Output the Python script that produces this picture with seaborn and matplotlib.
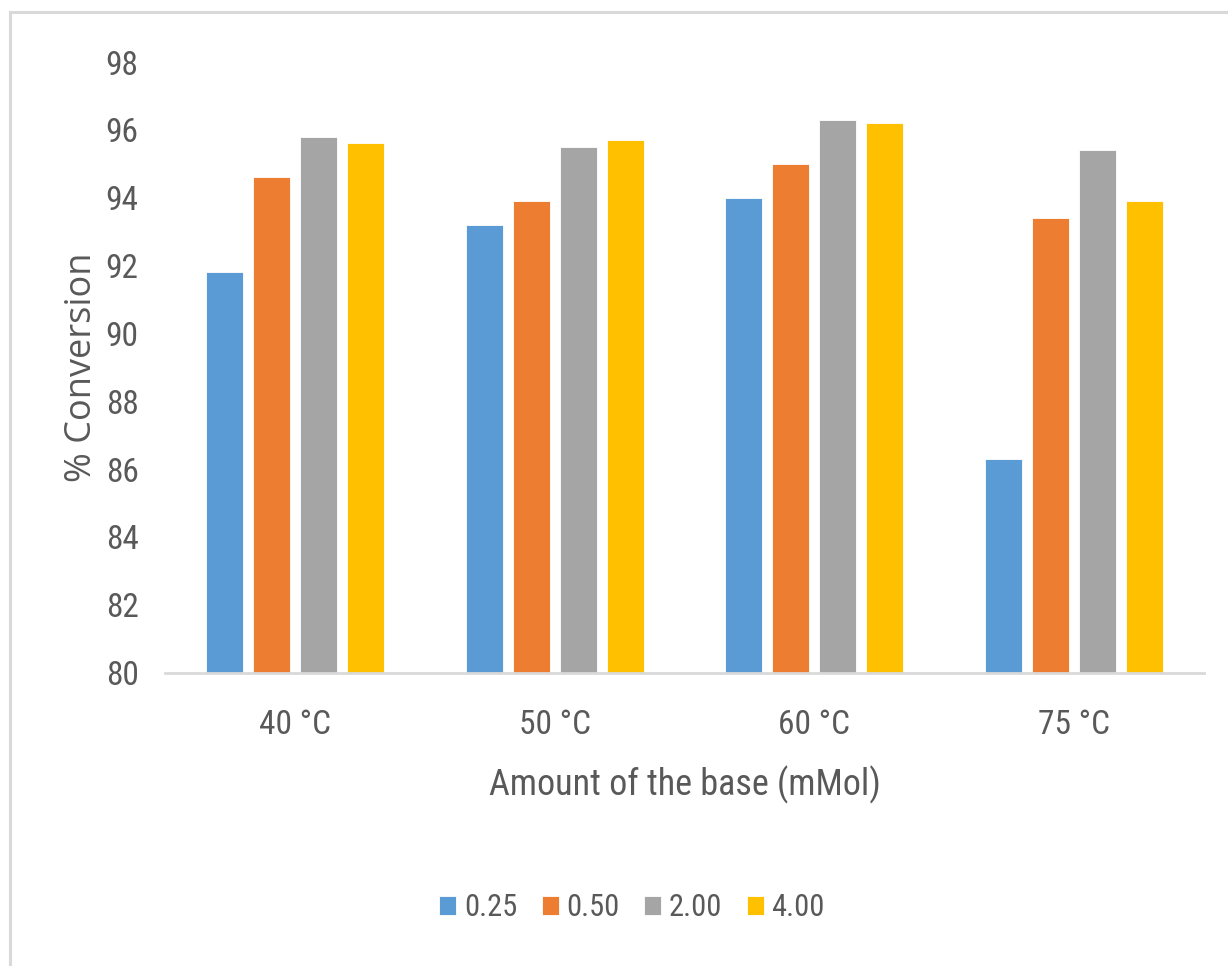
import matplotlib
matplotlib.use("Agg")
import matplotlib.pyplot as plt
from matplotlib.patches import Rectangle
import seaborn as sns
import pandas as pd

# Reaction temperature groups and base loadings (mMol)
temperatures = ["40 °C", "50 °C", "60 °C", "75 °C"]
base_amounts = ["0.25", "0.50", "2.00", "4.00"]

# % conversion per base loading, one value per temperature
conv_025 = [91.8, 93.2, 94.0, 86.3]
conv_050 = [94.6, 93.9, 95.0, 93.4]
conv_200 = [95.8, 95.5, 96.3, 95.4]
conv_400 = [95.6, 95.7, 96.2, 93.9]

bar_colors = ["#5B9BD5", "#ED7D31", "#A5A5A5", "#FFC000"]

series = [conv_025, conv_050, conv_200, conv_400]
rows = []
for amount, values in zip(base_amounts, series):
    for temp, v in zip(temperatures, values):
        rows.append({"temperature": temp, "base": amount, "conversion": v})
df = pd.DataFrame(rows)

sns.set_theme(style="white")
narrow = ["Roboto Condensed", "Open Sans Condensed", "PT Sans Narrow",
          "Archivo Narrow", "Fira Sans Condensed", "Carlito", "DejaVu Sans"]
plt.rcParams["font.family"] = narrow
text_color = "#595959"

W, H = 1228, 966
fig = plt.figure(figsize=(W / 100, H / 100), dpi=100)
fig.patch.set_facecolor("white")

# Chart-area frame (light gray)
fig.patches.append(Rectangle((10 / W, -0.05), 1.2, 1 - 12 / H + 0.05,
                             transform=fig.transFigure, fill=False,
                             edgecolor="#D9D9D9", linewidth=2.2, zorder=0))

left, right = 165 / W, 1204 / W
bottom, top = 1 - 672.5 / H, 1 - 62 / H
ax = fig.add_axes([left, bottom, right - left, top - bottom])

sns.barplot(data=df, x="temperature", y="conversion", hue="base",
            order=temperatures, hue_order=base_amounts,
            palette=bar_colors, width=0.724, gap=0.21,
            edgecolor="white", linewidth=0.6, saturation=1,
            errorbar=None, ax=ax)

ax.set_ylim(80, 98)
ax.set_yticks(range(80, 99, 2))
ax.set_xlim(-0.5, len(temperatures) - 0.5)

for side in ["left", "right", "top"]:
    ax.spines[side].set_visible(False)
ax.spines["bottom"].set_color("#D9D9D9")
ax.spines["bottom"].set_linewidth(2.0)
ax.grid(False)

ax.tick_params(axis="y", length=0, pad=19, labelsize=24, labelcolor=text_color)
ax.tick_params(axis="x", length=0, pad=26, labelsize=24, labelcolor=text_color)

ax.set_xlabel("Amount of the base (mMol)", fontsize=26, color=text_color,
              labelpad=18, family=narrow)
ax.set_ylabel("% Conversion", fontsize=26, color=text_color,
              family=["Open Sans", "DejaVu Sans"], labelpad=4)

handles, labels = ax.get_legend_handles_labels()
ax.get_legend().remove()
fig.legend(handles, labels, loc="center",
           bbox_to_anchor=(632 / W, 1 - 908 / H), ncol=4, frameon=False,
           fontsize=22, handlelength=0.56, handleheight=0.56,
           handletextpad=0.25, columnspacing=0.8, labelcolor=text_color)

fig.savefig("out.png", dpi=100, facecolor="white")
